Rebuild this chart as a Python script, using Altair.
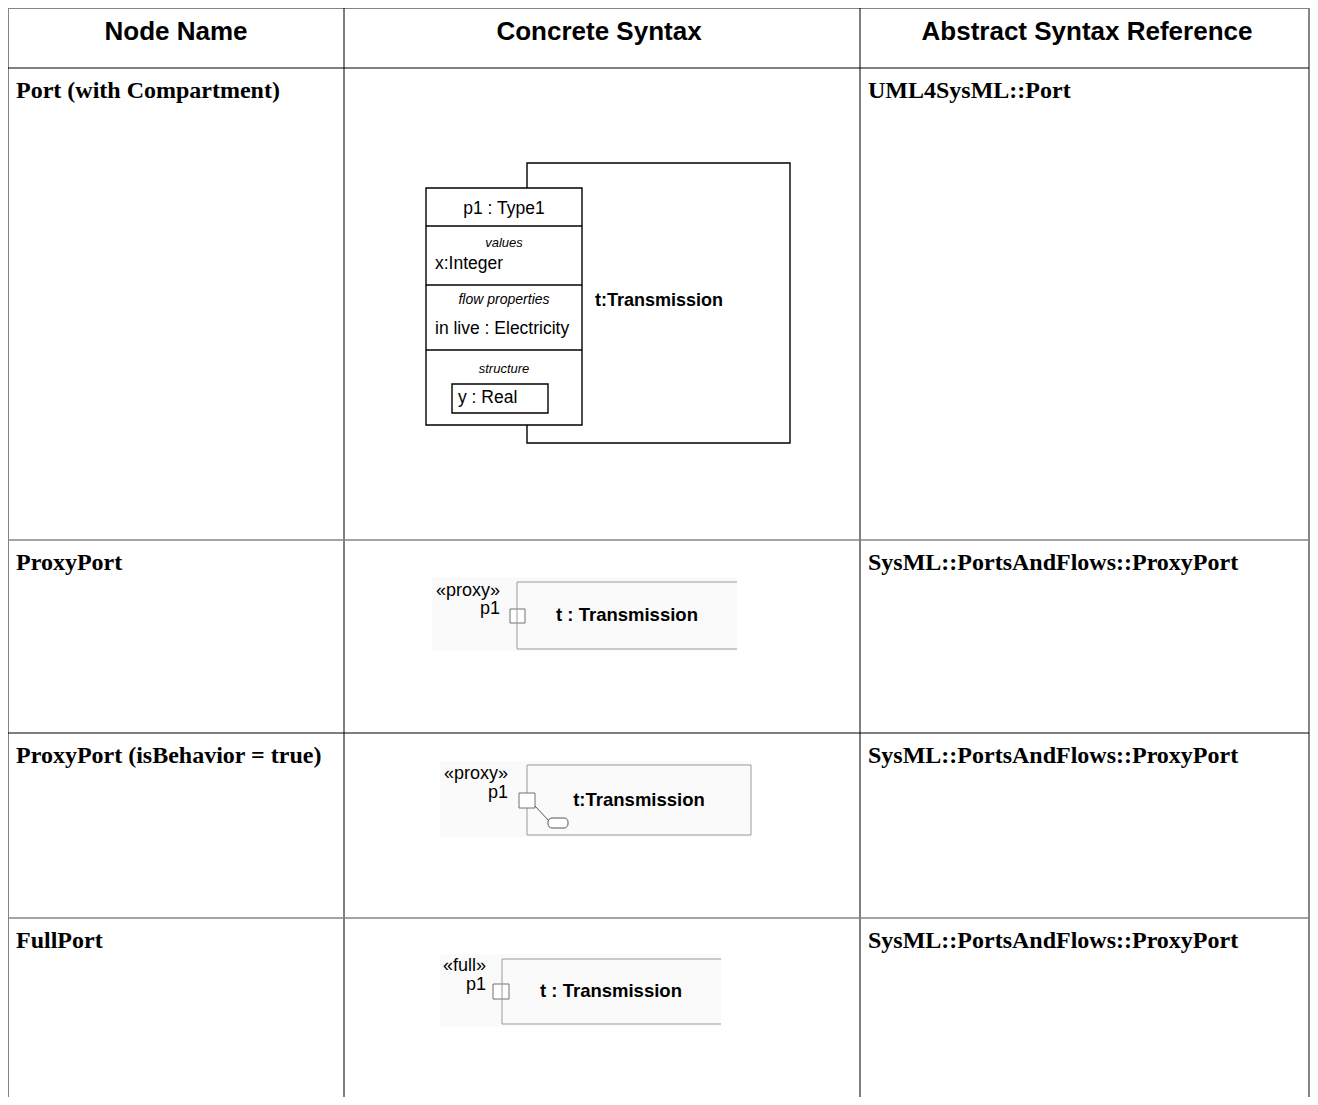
import altair as alt
import pandas as pd

# ---------------- content ----------------
headers = ["Node Name", "Concrete Syntax", "Abstract Syntax Reference"]
node_names = ["Port (with Compartment)", "ProxyPort",
              "ProxyPort (isBehavior = true)", "FullPort"]
abstract_refs = ["UML4SysML::Port", "SysML::PortsAndFlows::ProxyPort",
                 "SysML::PortsAndFlows::ProxyPort", "SysML::PortsAndFlows::ProxyPort"]
compartment_texts = ["p1 : Type1", "x:Integer", "in live : Electricity", "y : Real"]
compartment_titles = ["values", "flow properties", "structure"]
part_labels = ["t:Transmission", "t : Transmission", "t:Transmission", "t : Transmission"]
stereotypes = ["«proxy»", "«proxy»", "«full»"]
port_names = ["p1", "p1", "p1"]

# ---------------- layout (page pixels) ----------------
W, H = 1302, 1089
col_edges = [8, 344, 860, 1309]
row_edges = [8, 68, 540, 733, 918]
page_bottom = 8 + H
header_center = [176, 599, 1087]
header_base = 40
row_base_offset = 30

GREY = "#858585"
BLACK = "#000000"
LGREY = "#9a9a9a"

segs = []
def seg(x, y, x2, y2, c, w):
    segs.append(dict(x=x, y=y, x2=x2, y2=y2, c=c, w=w))

# table grid
seg(col_edges[0], row_edges[0], col_edges[-1], row_edges[0], GREY, 2)
seg(col_edges[0], row_edges[0], col_edges[0], page_bottom, GREY, 2)
seg(col_edges[-1], row_edges[0], col_edges[-1], page_bottom, GREY, 2)
seg(col_edges[1], row_edges[0], col_edges[1], page_bottom, BLACK, 1)
seg(col_edges[2], row_edges[0], col_edges[2], page_bottom, BLACK, 1)
row_colors = [BLACK, GREY, BLACK, GREY]
for yy, cc in zip(row_edges[1:], row_colors):
    seg(col_edges[0], yy, col_edges[-1], yy, cc, 1.5 if cc == GREY else 1)

rects = []
def rect(x, y, x2, y2, fill, stroke, w):
    rects.append(dict(x=x, y=y, x2=x2, y2=y2, f=fill, s=stroke, w=w))

# faint background of the screenshot-like diagrams
rect(432, 577, 737, 651, "#fafafa", "#fafafa", 0)
rect(440, 761, 751, 837, "#fafafa", "#fafafa", 0)
rect(440, 954, 721, 1027, "#fafafa", "#fafafa", 0)

# diagram 1: port with compartments
rect(527, 163, 790, 443, "#ffffff", BLACK, 1.4)
rect(426, 188, 582, 425, "#ffffff", BLACK, 1.4)
rect(452, 384, 548, 413, "#ffffff", BLACK, 1.4)

# diagram 3 frame (closed)
rect(527, 765, 751, 835, "transparent", LGREY, 1)

# port squares
rect(510, 609, 525, 623, "#ffffff", "#707070", 1)
rect(519, 793, 535, 808, "#ffffff", "#707070", 1)
rect(493, 984, 509, 999, "#ffffff", "#707070", 1)

# compartment separators
for yy in [226, 285, 350]:
    seg(426, yy, 582, yy, BLACK, 1.4)

# open frames of diagrams 2 and 4
seg(517, 582, 737, 582, LGREY, 1)
seg(517, 582, 517, 649, LGREY, 1)
seg(517, 649, 737, 649, LGREY, 1)
seg(502, 959, 721, 959, LGREY, 1)
seg(502, 959, 502, 1024, LGREY, 1)
seg(502, 1024, 721, 1024, LGREY, 1)
# behavior connector
seg(535, 806, 549, 821, "#555555", 1)

round_rects = [dict(x=548, y=818, x2=568, y2=828)]

texts = []
def txt(t, x, y, size, font, weight, style, align, base):
    texts.append(dict(t=t, x=x, y=y, size=size, font=font, weight=weight,
                      style=style, align=align, base=base))

SANS = "Liberation Sans"
SERIF = "Liberation Serif"
for h, cx in zip(headers, header_center):
    txt(h, cx, header_base, 26, SANS, "bold", "normal", "center", "alphabetic")
for i, (n, r) in enumerate(zip(node_names, abstract_refs)):
    yb = row_edges[i + 1] + row_base_offset
    txt(n, col_edges[0] + 8, yb, 24, SERIF, "bold", "normal", "left", "alphabetic")
    txt(r, col_edges[2] + 8, yb, 24, SERIF, "bold", "normal", "left", "alphabetic")

# diagram 1 texts
txt(compartment_texts[0], 504, 209, 17.5, SANS, "normal", "normal", "center", "middle")
txt(compartment_titles[0], 504, 243, 13, SANS, "normal", "italic", "center", "middle")
txt(compartment_texts[1], 435, 264, 17.5, SANS, "normal", "normal", "left", "middle")
txt(compartment_titles[1], 504, 300, 14, SANS, "normal", "italic", "center", "middle")
txt(compartment_texts[2], 435, 329, 17.5, SANS, "normal", "normal", "left", "middle")
txt(compartment_titles[2], 504, 369, 13, SANS, "normal", "italic", "center", "middle")
txt(compartment_texts[3], 458, 398, 17.5, SANS, "normal", "normal", "left", "middle")
txt(part_labels[0], 595, 301, 18, SANS, "bold", "normal", "left", "middle")

# diagrams 2-4 texts
txt(part_labels[1], 627, 615, 18.5, SANS, "bold", "normal", "center", "middle")
txt(part_labels[2], 639, 800, 18.5, SANS, "bold", "normal", "center", "middle")
txt(part_labels[3], 611, 991, 18.5, SANS, "bold", "normal", "center", "middle")
for s, p, xr, ys, yp in zip(stereotypes, port_names, [500, 508, 486],
                            [591, 774, 966], [609, 793, 985]):
    txt(s, xr, ys, 18, SANS, "normal", "normal", "right", "middle")
    txt(p, xr, yp, 18, SANS, "normal", "normal", "right", "middle")

# ---------------- chart ----------------
xs = alt.Scale(domain=[8, 8 + W], nice=False, zero=False)
ys = alt.Scale(domain=[8, 8 + H], nice=False, zero=False, reverse=True)

def X(f="x"):
    return alt.X(f"{f}:Q", scale=xs, axis=None)

def Y(f="y"):
    return alt.Y(f"{f}:Q", scale=ys, axis=None)

rect_df = pd.DataFrame(rects)
rect_layer = alt.Chart(rect_df).mark_rect().encode(
    x=X(), x2="x2:Q", y=Y(), y2="y2:Q",
    fill=alt.Fill("f:N", scale=None),
    stroke=alt.Stroke("s:N", scale=None),
    strokeWidth=alt.StrokeWidth("w:Q", scale=None),
)

rr_layer = alt.Chart(pd.DataFrame(round_rects)).mark_rect(
    cornerRadius=4, fill="#ffffff", stroke="#555555", strokeWidth=1
).encode(x=X(), x2="x2:Q", y=Y(), y2="y2:Q")

seg_df = pd.DataFrame(segs)
seg_layer = alt.Chart(seg_df).mark_rule().encode(
    x=X(), x2="x2:Q", y=Y(), y2="y2:Q",
    color=alt.Color("c:N", scale=None),
    strokeWidth=alt.StrokeWidth("w:Q", scale=None),
)

tdf = pd.DataFrame(texts)
text_layers = []
for key, g in tdf.groupby(["font", "weight", "style", "align", "base"]):
    font, weight, style, align, base = key
    text_layers.append(
        alt.Chart(g.reset_index(drop=True)).mark_text(
            font=font, fontWeight=weight, fontStyle=style,
            align=align, baseline=base, color="#000000"
        ).encode(x=X(), y=Y(), text="t:N",
                 size=alt.Size("size:Q", scale=None))
    )

chart = alt.layer(rect_layer, seg_layer, rr_layer, *text_layers).properties(
    width=W, height=H, padding=0, autosize=alt.AutoSizeParams(type="none"),
    background="#ffffff",
).configure_view(stroke=None)

chart.save("out.html", embed_options={"renderer": "svg", "actions": False})
